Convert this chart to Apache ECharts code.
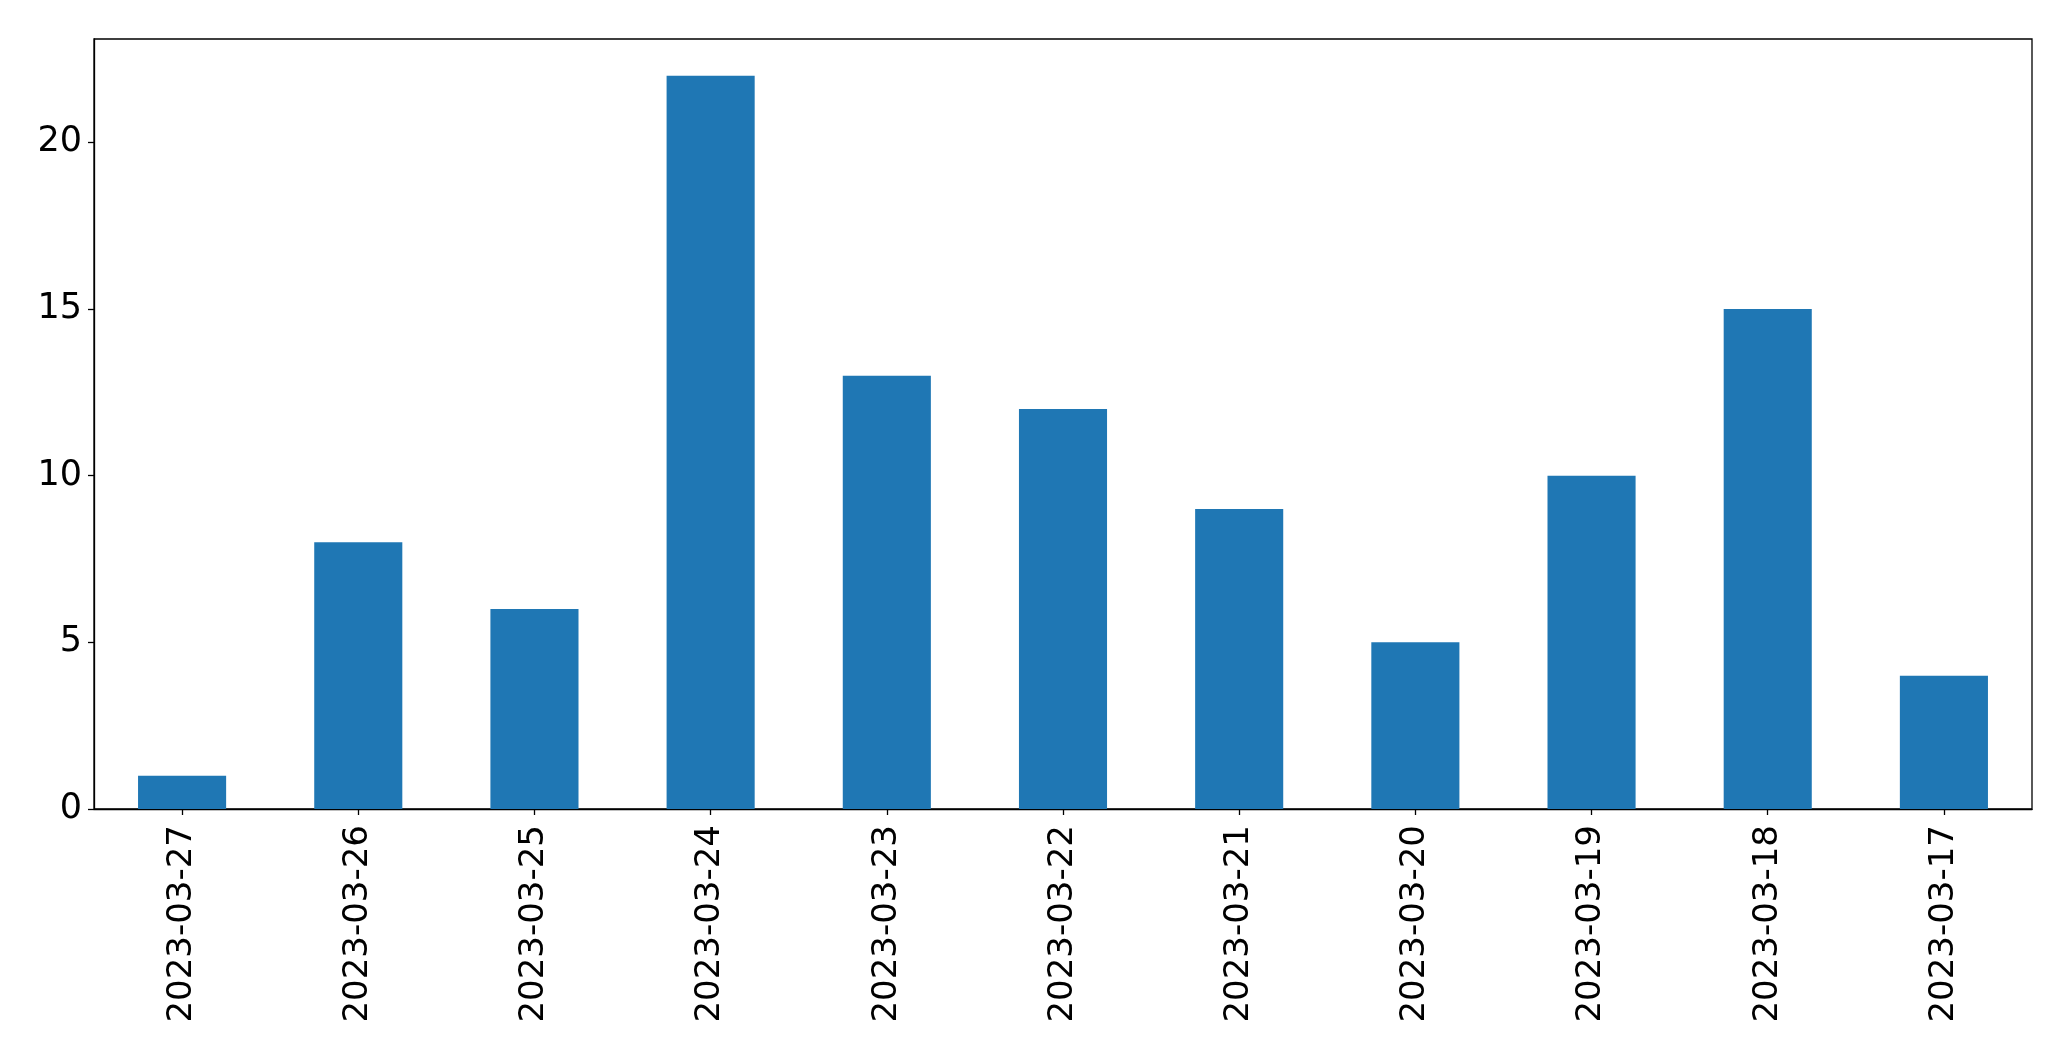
<!DOCTYPE html>
<html>
<head>
<meta charset="utf-8">
<script src="https://cdn.jsdelivr.net/npm/echarts@6/dist/echarts.min.js"></script>
<style>
html,body{margin:0;padding:0;background:#fff;}
#chart{width:2071px;height:1061px;}
</style>
</head>
<body>
<div id="chart"></div>
<script>
const categories = ['2023-03-27','2023-03-26','2023-03-25','2023-03-24','2023-03-23','2023-03-22','2023-03-21','2023-03-20','2023-03-19','2023-03-18','2023-03-17'];
const values = [1, 8, 6, 22, 13, 12, 9, 5, 10, 15, 4];
const yTicks = [0, 5, 10, 15, 20];

const chart = echarts.init(document.getElementById('chart'), null, {renderer: 'canvas'});
const font = 'DejaVu Sans';
chart.setOption({
  animation: false,
  backgroundColor: '#fff',
  grid: {
    left: 94, right: 39, top: 39, bottom: 252,
    show: true, borderColor: '#000', borderWidth: 1.3, backgroundColor: 'transparent'
  },
  xAxis: {
    type: 'category',
    data: categories,
    boundaryGap: true,
    axisLine: {show: true, lineStyle: {color: '#000', width: 1.3}},
    axisTick: {show: true, alignWithLabel: true, length: 6, inside: false, lineStyle: {color: '#000', width: 1.3}},
    axisLabel: {rotate: 90, interval: 0, margin: 16, color: '#000', fontSize: 34, fontFamily: font},
    splitLine: {show: false}
  },
  yAxis: {
    type: 'value',
    min: 0,
    max: 23.1,
    interval: 5,
    axisLine: {show: true, lineStyle: {color: '#000', width: 1.3}},
    axisTick: {show: true, length: 6, lineStyle: {color: '#000', width: 1.3}},
    axisLabel: {
      margin: 12, color: '#000', fontSize: 35, fontFamily: font,
      showMaxLabel: false,
      formatter: function (v) { return yTicks.indexOf(v) >= 0 ? String(v) : ''; }
    },
    splitLine: {show: false}
  },
  series: [{
    type: 'bar',
    data: values,
    barWidth: '50%',
    itemStyle: {color: '#1f77b4'}
  }]
});
</script>
</body>
</html>
